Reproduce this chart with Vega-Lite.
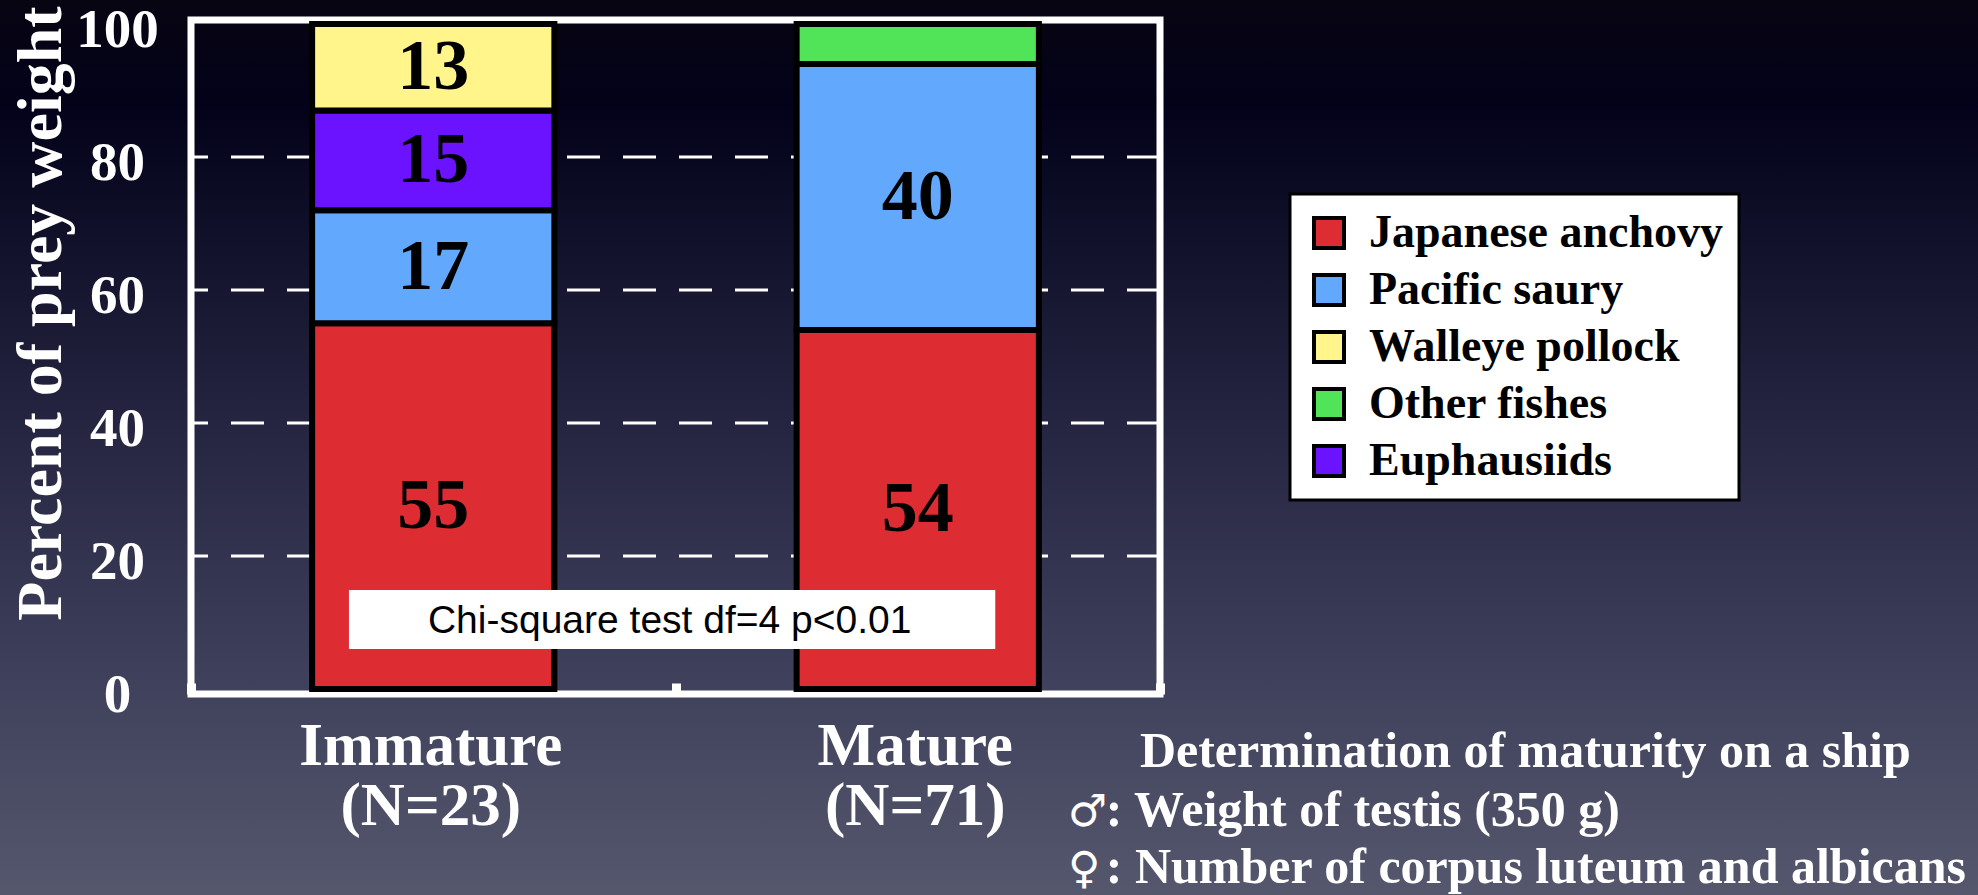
{
  "$schema": "https://vega.github.io/schema/vega-lite/v6.json",
  "width": 969,
  "height": 674,
  "autosize": "none",
  "padding": {"left": 191, "top": 20, "right": 818, "bottom": 201},
  "background": "#1c1c34",
  "config": {
    "font": "Liberation Serif",
    "view": {"stroke": null},
    "legend": {"strokeWidth": 3, "zindex": 1}
  },
  "datasets": {
    "diet": [
      {"stage": "Immature (N=23)", "prey": "Japanese anchovy", "pct": 55, "order": 1},
      {"stage": "Immature (N=23)", "prey": "Pacific saury", "pct": 17, "order": 2},
      {"stage": "Immature (N=23)", "prey": "Euphausiids", "pct": 15, "order": 3},
      {"stage": "Immature (N=23)", "prey": "Walleye pollock", "pct": 13, "order": 4},
      {"stage": "Mature (N=71)", "prey": "Japanese anchovy", "pct": 54, "order": 1},
      {"stage": "Mature (N=71)", "prey": "Pacific saury", "pct": 40, "order": 2},
      {"stage": "Mature (N=71)", "prey": "Other fishes", "pct": 6, "order": 5}
    ],
    "grid": [{"tick": 20}, {"tick": 40}, {"tick": 60}, {"tick": 80}],
    "one": [{"note": "Chi-square test df=4 p<0.01"}]
  },
  "layer": [
    {
      "data": {"name": "one"},
      "mark": {
        "type": "rect",
        "fill": {
          "gradient": "linear",
          "x1": 0, "y1": 0, "x2": 0, "y2": 1,
          "stops": [
            {"offset": 0, "color": "#070511"},
            {"offset": 0.12, "color": "#03021a"},
            {"offset": 0.45, "color": "#23233f"},
            {"offset": 0.75, "color": "#3f405b"},
            {"offset": 1, "color": "#56586e"}
          ]
        }
      },
      "encoding": {
        "x": {"datum": -0.2, "type": "quantitative", "scale": {"domain": [0, 1]}, "axis": null},
        "x2": {"datum": 1.85},
        "y": {"datum": 104, "type": "quantitative", "scale": {"domain": [-0.752, 100.6], "nice": false, "zero": false}},
        "y2": {"datum": -32}
      }
    },
    {
      "data": {"name": "grid"},
      "mark": {"type": "rule", "color": "white", "strokeWidth": 3, "strokeDash": [33, 23]},
      "encoding": {
        "y": {"field": "tick", "type": "quantitative", "scale": {"domain": [-0.752, 100.6], "nice": false, "zero": false}}
      }
    },
    {
      "data": {"name": "one"},
      "mark": {"type": "rect", "fillOpacity": 0, "stroke": "white", "strokeWidth": 7},
      "encoding": {
        "x": {"datum": 0, "type": "quantitative", "scale": {"domain": [0, 1]}, "axis": null},
        "x2": {"datum": 1},
        "y": {"datum": -0.752, "type": "quantitative", "scale": {"domain": [-0.752, 100.6], "nice": false, "zero": false}},
        "y2": {"datum": 100.6}
      }
    },
    {
      "data": {"name": "diet"},
      "transform": [
        {"stack": "pct", "groupby": ["stage"], "sort": [{"field": "order", "order": "ascending"}], "as": ["y0", "y1"]}
      ],
      "mark": {"type": "bar", "width": {"band": 0.5}, "stroke": "black", "strokeWidth": 6},
      "encoding": {
        "x": {
          "field": "stage", "type": "nominal",
          "scale": {"paddingInner": 0, "paddingOuter": 0},
          "axis": {
            "title": null,
            "labelExpr": "split(datum.label, ' ')",
            "labelAngle": 0,
            "labelFont": "Liberation Serif",
            "labelFontWeight": "bold",
            "labelFontSize": 61,
            "labelColor": "white",
            "labelLineHeight": 60,
            "labelBaseline": "top",
            "labelPadding": 33,
            "labelOffset": -3,
            "labelLimit": 600,
            "domain": false,
            "ticks": true,
            "tickBand": "extent",
            "tickSize": -11,
            "tickWidth": 9,
            "tickColor": "white",
            "grid": false,
            "zindex": 1
          }
        },
        "y": {
          "field": "y0", "type": "quantitative",
          "scale": {"domain": [-0.752, 100.6], "nice": false, "zero": false},
          "axis": {
            "values": [0, 20, 40, 60, 80, 100],
            "title": "Percent of prey weight",
            "titleFont": "Liberation Serif",
            "titleFontWeight": "bold",
            "titleFontSize": 64,
            "titleColor": "white",
            "titleAngle": -90,
            "titleAlign": "center",
            "titleBaseline": "alphabetic",
            "titleX": -131,
            "titleY": 293,
            "titleLimit": 1000,
            "labelFont": "Liberation Serif",
            "labelFontWeight": "bold",
            "labelFontSize": 55,
            "labelColor": "white",
            "labelAlign": "center",
            "labelBaseline": "middle",
            "labelPadding": 74,
            "labelOffset": 6,
            "domain": false,
            "ticks": false,
            "grid": false,
            "zindex": 1
          }
        },
        "y2": {"field": "y1"},
        "color": {
          "field": "prey", "type": "nominal",
          "scale": {
            "domain": ["Japanese anchovy", "Pacific saury", "Walleye pollock", "Other fishes", "Euphausiids"],
            "range": ["#de2c33", "#62a8fd", "#fff58b", "#51e459", "#6b12ff"]
          },
          "legend": {
            "title": null,
            "orient": "none",
            "legendX": 1099,
            "legendY": 174,
            "fillColor": "white",
            "strokeColor": "black",
            "padding": 16,
            "labelFont": "Liberation Serif",
            "labelFontWeight": "bold",
            "labelFontSize": 46,
            "labelColor": "black",
            "labelLimit": 600,
            "labelOffset": 17,
            "symbolType": "square",
            "symbolSize": 900,
            "symbolStrokeWidth": 4,
            "symbolStrokeColor": "black",
            "symbolOpacity": 1,
            "rowPadding": 11
          }
        }
      }
    },
    {
      "data": {"name": "diet"},
      "transform": [
        {"stack": "pct", "groupby": ["stage"], "sort": [{"field": "order", "order": "ascending"}], "as": ["y0", "y1"]},
        {"calculate": "(datum.y0 + datum.y1) / 2", "as": "mid"},
        {"filter": "datum.pct >= 10"}
      ],
      "mark": {"type": "text", "font": "Liberation Serif", "fontWeight": "bold", "fontSize": 72, "color": "black", "baseline": "middle", "align": "center"},
      "encoding": {
        "x": {"field": "stage", "type": "nominal", "scale": {"paddingInner": 0, "paddingOuter": 0}, "axis": null},
        "y": {"field": "mid", "type": "quantitative", "scale": {"domain": [-0.752, 100.6], "nice": false, "zero": false}},
        "text": {"field": "pct", "type": "quantitative"}
      }
    },
    {
      "data": {"name": "one"},
      "mark": {"type": "rect", "fill": "white"},
      "encoding": {
        "x": {"datum": 0.163, "type": "quantitative", "scale": {"domain": [0, 1]}, "axis": null},
        "x2": {"datum": 0.83},
        "y": {"datum": 6.0, "type": "quantitative", "scale": {"domain": [-0.752, 100.6], "nice": false, "zero": false}},
        "y2": {"datum": 14.9}
      }
    },
    {
      "data": {"name": "one"},
      "mark": {"type": "text", "font": "Liberation Sans", "fontSize": 39, "color": "black", "align": "center", "baseline": "middle"},
      "encoding": {
        "x": {"datum": 0.494, "type": "quantitative", "scale": {"domain": [0, 1]}, "axis": null},
        "y": {"datum": 10.3, "type": "quantitative", "scale": {"domain": [-0.752, 100.6], "nice": false, "zero": false}},
        "text": {"field": "note"}
      }
    },
    {
      "data": {"name": "one"},
      "mark": {"type": "text", "text": "Determination of maturity on a ship", "font": "Liberation Serif", "fontWeight": "bold", "fontSize": 50, "color": "white", "align": "center", "baseline": "alphabetic"},
      "encoding": {
        "x": {"datum": 1.377, "type": "quantitative", "scale": {"domain": [0, 1]}, "axis": null},
        "y": {"datum": -11.73, "type": "quantitative", "scale": {"domain": [-0.752, 100.6], "nice": false, "zero": false}}
      }
    },
    {
      "data": {"name": "one"},
      "mark": {"type": "text", "text": ["♂", "♀"], "lineHeight": 57, "font": "DejaVu Sans", "fontSize": 44, "color": "white", "align": "left", "baseline": "alphabetic"},
      "encoding": {
        "x": {"datum": 0.905, "type": "quantitative", "scale": {"domain": [0, 1]}, "axis": null},
        "y": {"datum": -20.6, "type": "quantitative", "scale": {"domain": [-0.752, 100.6], "nice": false, "zero": false}}
      }
    },
    {
      "data": {"name": "one"},
      "mark": {"type": "text", "text": [": Weight of testis (350 g)", ": Number of corpus luteum and albicans"], "lineHeight": 57, "font": "Liberation Serif", "fontWeight": "bold", "fontSize": 50, "color": "white", "align": "left", "baseline": "alphabetic"},
      "encoding": {
        "x": {"datum": 0.944, "type": "quantitative", "scale": {"domain": [0, 1]}, "axis": null},
        "y": {"datum": -20.6, "type": "quantitative", "scale": {"domain": [-0.752, 100.6], "nice": false, "zero": false}}
      }
    }
  ],
  "resolve": {"scale": {"x": "independent"}}
}
